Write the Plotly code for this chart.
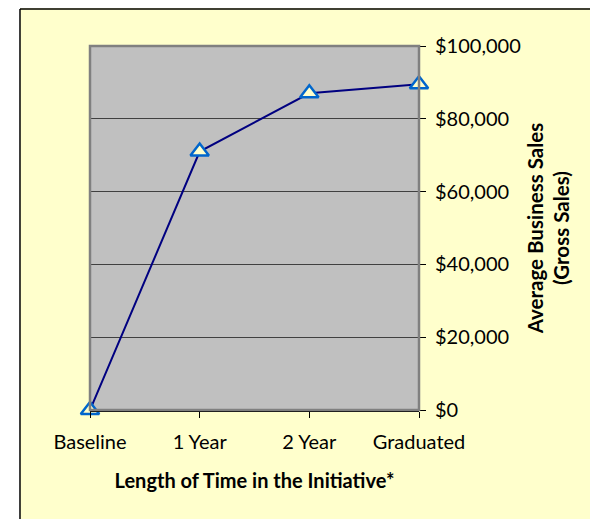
import plotly.graph_objects as go

categories = ["Baseline", "1 Year", "2 Year", "Graduated"]
sales = [0, 71000, 87000, 89500]
y_ticks = [0, 20000, 40000, 60000, 80000, 100000]
y_tick_labels = ["$0", "$20,000", "$40,000", "$60,000", "$80,000", "$100,000"]

FONT = "Lato, Calibri, sans-serif"

fig = go.Figure()

fig.add_trace(go.Scatter(
    x=list(range(len(categories))), y=sales,
    mode="lines+markers",
    line=dict(color="#000080", width=2),
    marker=dict(symbol="triangle-up", size=16, color="#FFFFCC",
                line=dict(color="#0066CC", width=2.5)),
    cliponaxis=False,
    showlegend=False,
))

# plot area border (gray) and outer chart border
fig.add_shape(type="rect", xref="paper", yref="paper", x0=0, x1=1, y0=0, y1=1,
              line=dict(color="#808080", width=2.5), layer="above")
fig.add_shape(type="rect", xref="paper", yref="paper", x0=-0.4, x1=-0.2128, y0=-0.5, y1=1.2,
              fillcolor="white", line=dict(width=0), layer="below")
fig.add_shape(type="line", xref="paper", yref="paper", x0=-0.2128, x1=-0.2128, y0=-0.5, y1=1.1016,
              line=dict(color="black", width=1.5))
fig.add_shape(type="line", xref="paper", yref="paper", x0=-0.2128, x1=1.7, y0=1.1016, y1=1.1016,
              line=dict(color="black", width=1.5))

fig.update_layout(
    width=590, height=511,
    paper_bgcolor="#FFFFCC",
    plot_bgcolor="#C0C0C0",
    margin=dict(l=82, r=179, t=38, b=109),
    font=dict(family=FONT, size=20, color="black"),
    xaxis=dict(
        range=[0, 3],
        tickvals=list(range(len(categories))), ticktext=categories,
        showgrid=False, zeroline=False,
        showline=True, linecolor="black", linewidth=1.5,
        ticks="outside", ticklen=6, tickcolor="black",
        ticklabelstandoff=7,
        title=dict(text="<b>Length of Time in the Initiative*</b>",
                   font=dict(size=20), standoff=22),
    ),
    yaxis=dict(
        range=[0, 100000], side="right",
        tickvals=y_ticks, ticktext=y_tick_labels,
        showgrid=True, gridcolor="#404040", gridwidth=1,
        zeroline=False, showline=False,
        ticks="outside", ticklen=6, tickcolor="black",
        ticklabelstandoff=5,
        title=dict(text="<b>Average Business Sales<br>(Gross Sales)</b>",
                   font=dict(size=20.5), standoff=8),
    ),
)

fig.write_html("out.html")
